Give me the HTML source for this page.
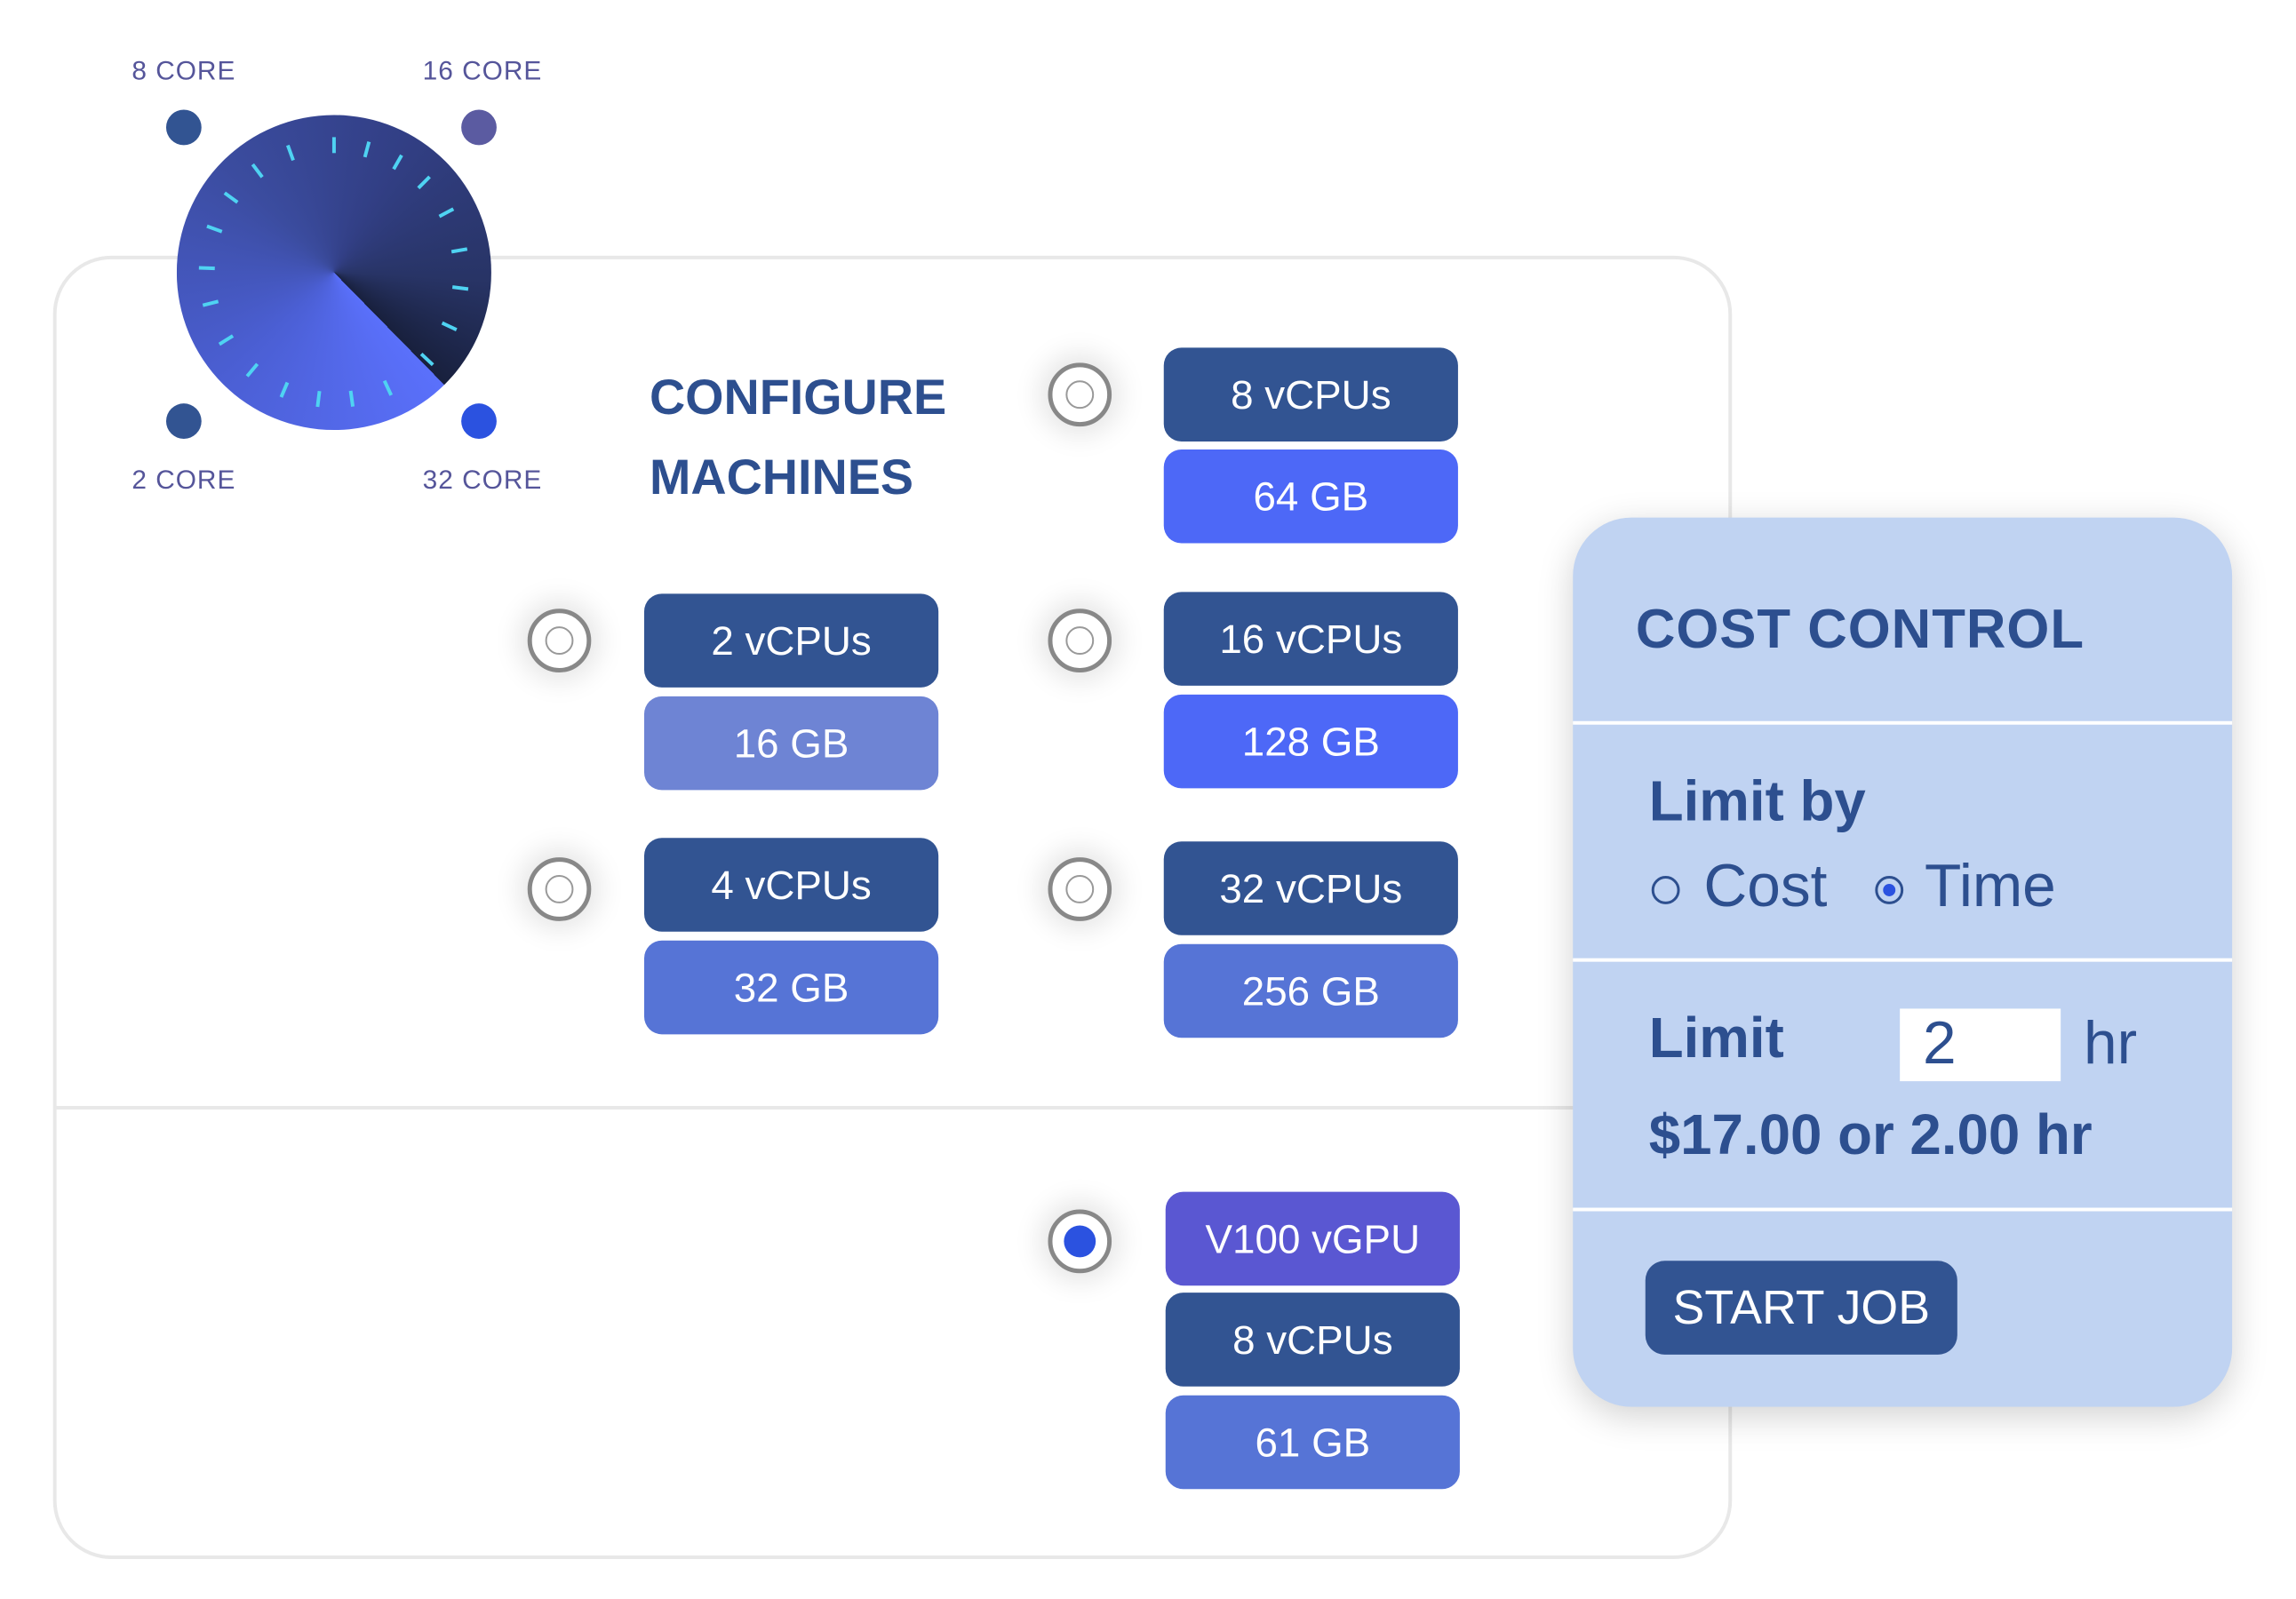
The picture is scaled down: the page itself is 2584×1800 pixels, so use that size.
<!DOCTYPE html>
<html><head><meta charset="utf-8"><style>
body{margin:0;width:2584px;height:1800px;background:#fff;position:relative;overflow:hidden;font-family:"Liberation Sans","DejaVu Sans",sans-serif;}
#w{position:absolute;left:0;top:0;width:2584px;height:1800px;transform:scale(0.9945,0.996);transform-origin:0 0}
.a{position:absolute}
.panel{left:60px;top:289px;width:1900px;height:1473px;border:4px solid #e8e8e8;border-radius:66px;box-sizing:border-box}
.div{left:62px;top:1250px;width:1720px;height:4px;background:#e8e8e8}
.lab{font-size:30px;color:#55559a;width:200px;text-align:center;letter-spacing:1px}
.dot{width:40px;height:40px;border-radius:50%}
.b{width:333px;height:106px;border-radius:20px;color:#fff;font-size:46px;display:flex;align-items:center;justify-content:center}
.d{background:#325492}.br{background:#4d68f7}.m{background:#5674d6}.l{background:#6e84d4}.v{background:#5a57d2}
.r{width:72px;height:72px;border-radius:50%;border:5px solid #888;box-sizing:border-box;background:#fff;box-shadow:0 0 30px 10px rgba(0,0,0,0.10)}
.r::after{content:"";position:absolute;left:15px;top:15px;width:32px;height:32px;border-radius:50%;border:2px solid #999;box-sizing:border-box}
.r.s::after{border:none;background:#2b52e0;left:13px;top:13px;width:36px;height:36px}
.cost{left:1780px;top:585px;width:746px;height:1005px;background:#c0d3f2;border-radius:66px;box-shadow:0 10px 40px rgba(0,0,0,0.18)}
.hl{left:1780px;width:746px;height:4px;background:#fff}
.t{color:#2d4f8f;white-space:nowrap}
</style></head><body><div id="w">
<div class="a panel"></div>
<div class="a div"></div>

<svg class="a" style="left:0;top:0" width="800" height="600">
<defs><clipPath id="c"><circle cx="378" cy="308" r="178"/></clipPath></defs>
<foreignObject x="200" y="130" width="356" height="356" clip-path="url(#c)">
<div xmlns="http://www.w3.org/1999/xhtml" style="width:356px;height:356px;background:conic-gradient(from 135.5deg,#5a70fb 0%,#4b5fd4 25%,#3b4c9f 50%,#323f85 70%,#283466 88%,#18203d 100%)"></div>
</foreignObject>
<g stroke="#4fd3f2" stroke-width="4" stroke-linecap="butt">
<g id="tk"><line x1="378" y1="155" x2="378" y2="173"/></g>
<use href="#tk" transform="rotate(15 378 308)"/><use href="#tk" transform="rotate(30 378 308)"/><use href="#tk" transform="rotate(45 378 308)"/><use href="#tk" transform="rotate(62 378 308)"/><use href="#tk" transform="rotate(80 378 308)"/><use href="#tk" transform="rotate(97 378 308)"/><use href="#tk" transform="rotate(115 378 308)"/><use href="#tk" transform="rotate(133 378 308)"/><use href="#tk" transform="rotate(155 378 308)"/><use href="#tk" transform="rotate(172 378 308)"/><use href="#tk" transform="rotate(187 378 308)"/><use href="#tk" transform="rotate(203 378 308)"/><use href="#tk" transform="rotate(220 378 308)"/><use href="#tk" transform="rotate(238 378 308)"/><use href="#tk" transform="rotate(256 378 308)"/><use href="#tk" transform="rotate(272 378 308)"/><use href="#tk" transform="rotate(290 378 308)"/><use href="#tk" transform="rotate(306 378 308)"/><use href="#tk" transform="rotate(323 378 308)"/><use href="#tk" transform="rotate(340 378 308)"/>
</g>
</svg>

<div class="a dot" style="left:188px;top:124px;background:#325492"></div>
<div class="a dot" style="left:522px;top:124px;background:#5b5ba1"></div>
<div class="a dot" style="left:188px;top:456px;background:#325492"></div>
<div class="a dot" style="left:522px;top:456px;background:#2b52e0"></div>
<div class="a lab" style="left:108px;top:64px">8 CORE</div>
<div class="a lab" style="left:446px;top:64px">16 CORE</div>
<div class="a lab" style="left:108px;top:526px">2 CORE</div>
<div class="a lab" style="left:446px;top:526px">32 CORE</div>

<div class="a t" style="left:735px;top:414px;font-size:56px;font-weight:bold;line-height:70px">CONFIGURE<br><span style="display:inline-block;margin-top:20px">MACHINES</span></div>

<div class="a b d" style="left:1317px;top:393px">8 vCPUs</div>
<div class="a b br" style="left:1317px;top:508px">64 GB</div>
<div class="a b d" style="left:1317px;top:669px">16 vCPUs</div>
<div class="a b br" style="left:1317px;top:785px">128 GB</div>
<div class="a b d" style="left:1317px;top:951px">32 vCPUs</div>
<div class="a b m" style="left:1317px;top:1067px">256 GB</div>
<div class="a b d" style="left:729px;top:671px">2 vCPUs</div>
<div class="a b l" style="left:729px;top:787px">16 GB</div>
<div class="a b d" style="left:729px;top:947px">4 vCPUs</div>
<div class="a b m" style="left:729px;top:1063px">32 GB</div>
<div class="a b v" style="left:1319px;top:1347px">V100 vGPU</div>
<div class="a b d" style="left:1319px;top:1461px">8 vCPUs</div>
<div class="a b m" style="left:1319px;top:1577px">61 GB</div>

<div class="a r" style="left:1186px;top:410px"></div>
<div class="a r" style="left:1186px;top:688px"></div>
<div class="a r" style="left:1186px;top:969px"></div>
<div class="a r" style="left:597px;top:688px"></div>
<div class="a r" style="left:597px;top:969px"></div>
<div class="a r s" style="left:1186px;top:1367px"></div>

<div class="a cost"></div>
<div class="a hl" style="top:815px"></div>
<div class="a hl" style="top:1083px"></div>
<div class="a hl" style="top:1365px"></div>
<div class="a t" style="left:1851px;top:676px;font-size:62px;font-weight:bold;letter-spacing:1px">COST CONTROL</div>
<div class="a t" style="left:1866px;top:868px;font-size:64px;font-weight:bold">Limit by</div>
<div class="a" style="left:1869px;top:990px;width:32px;height:32px;border:3px solid #2d4f8f;border-radius:50%;box-sizing:border-box"></div>
<div class="a t" style="left:1928px;top:962px;font-size:68px">Cost</div>
<div class="a" style="left:2122px;top:990px;width:32px;height:32px;border:3px solid #2d4f8f;border-radius:50%;box-sizing:border-box"><div style="margin:6px;width:14px;height:14px;border-radius:50%;background:#2b52e0"></div></div>
<div class="a t" style="left:2178px;top:962px;font-size:68px">Time</div>
<div class="a t" style="left:1866px;top:1136px;font-size:64px;font-weight:bold">Limit</div>
<div class="a" style="left:2150px;top:1140px;width:182px;height:82px;background:#fff"></div>
<div class="a t" style="left:2176px;top:1140px;font-size:68px">2</div>
<div class="a t" style="left:2358px;top:1140px;font-size:68px">hr</div>
<div class="a t" style="left:1866px;top:1245px;font-size:64px;font-weight:bold">$17.00 or 2.00 hr</div>
<div class="a" style="left:1862px;top:1425px;width:353px;height:106px;background:#325492;border-radius:22px;color:#fff;font-size:54px;display:flex;align-items:center;justify-content:center">START JOB</div>
</div></body></html>
